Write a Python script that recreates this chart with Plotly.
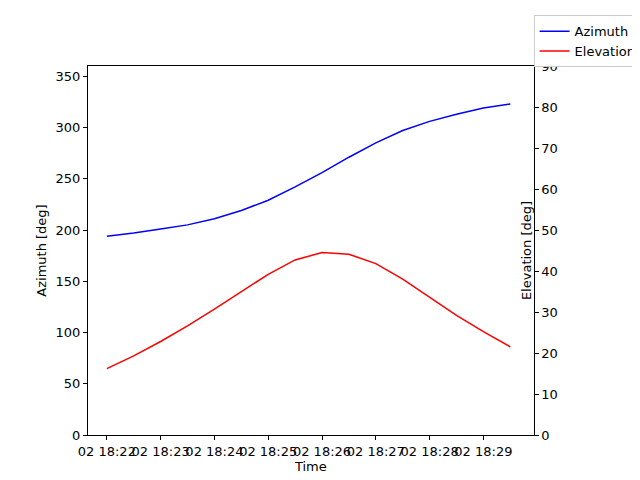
import plotly.graph_objects as go
import pandas as pd

times = pd.date_range("2024-01-02 18:22:00", periods=16, freq="30s")
azimuth = [194, 197, 201, 205, 211, 219, 229, 242, 256, 271, 285, 297, 306, 313, 319, 323]
elevation = [16.2, 19.3, 22.8, 26.6, 30.7, 35.0, 39.2, 42.7, 44.5, 44.1, 41.8, 38.0, 33.6, 29.2, 25.2, 21.5]

fig = go.Figure()
fig.add_trace(go.Scatter(x=times, y=azimuth, mode="lines", name="Azimuth",
                         line=dict(color="blue", width=1.5)))
fig.add_trace(go.Scatter(x=times, y=elevation, mode="lines", name="Elevation",
                         line=dict(color="red", width=1.5), yaxis="y2"))

ax = dict(showline=True, linecolor="black", linewidth=1, ticks="outside",
          ticklen=4, tickcolor="black", showgrid=False, zeroline=False,
          automargin=False, tickfont=dict(size=13))
fig.update_layout(
    width=640, height=480, template="simple_white",
    font=dict(family="DejaVu Sans", size=13, color="black"),
    margin=dict(l=80, r=64, t=58, b=53),
    plot_bgcolor="white", paper_bgcolor="white",
    xaxis=dict(**ax, mirror=True, title=dict(text="Time", standoff=4, font=dict(size=13)),
               range=["2024-01-02 18:21:39", "2024-01-02 18:29:56"],
               tickformat="%d %H:%M", dtick=60000, tickangle=0),
    yaxis=dict(**ax, range=[0, 360], dtick=50,
               title=dict(text="Azimuth [deg]", standoff=6, font=dict(size=13))),
    yaxis2=dict(**ax, range=[0, 90], dtick=10, overlaying="y", side="right",
                title=dict(text="Elevation [deg]", standoff=6, font=dict(size=13))),
    legend=dict(x=0.99, y=0.985, xref="container", yref="container", xanchor="right", yanchor="top",
                bordercolor="#cccccc", borderwidth=1, bgcolor="white",
                font=dict(size=13), itemwidth=30, tracegroupgap=0),
    showlegend=True,
)
fig.write_html("out.html")
